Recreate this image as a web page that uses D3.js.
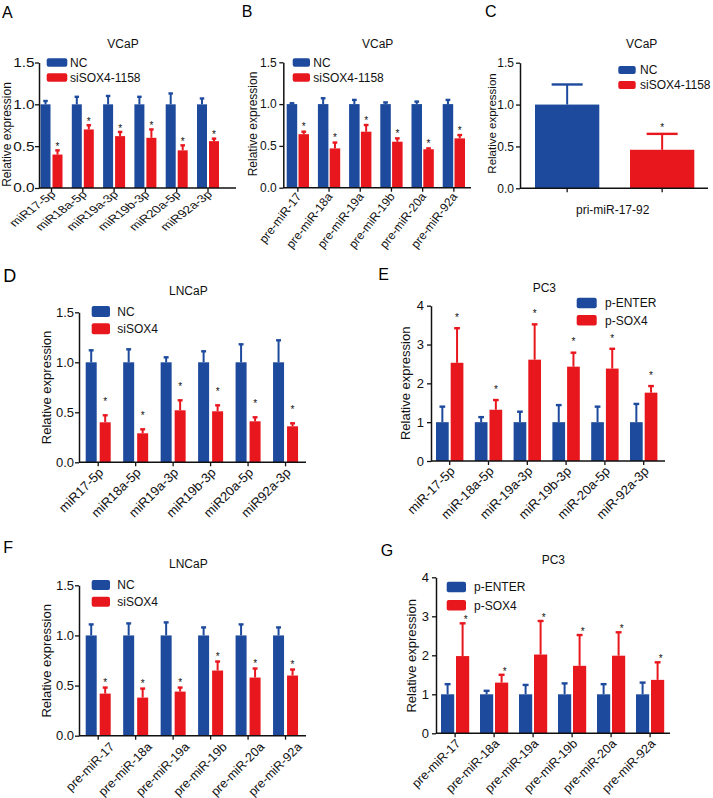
<!DOCTYPE html>
<html><head><meta charset="utf-8">
<script src="https://cdn.jsdelivr.net/npm/d3@7"></script>
<style>
body{margin:0;background:#fff;}
svg{display:block;font-family:Arial,"Liberation Sans",Helvetica,sans-serif;}
</style></head><body>
<svg id="fig" width="713" height="798"></svg>
<script>
// ---------- data ----------
const matureA = ["miR17-5p","miR18a-5p","miR19a-3p","miR19b-3p","miR20a-5p","miR92a-3p"];
const matureE = ["miR-17-5p","miR-18a-5p","miR-19a-3p","miR-19b-3p","miR-20a-5p","miR-92a-3p"];
const preMiR = ["pre-miR-17","pre-miR-18a","pre-miR-19a","pre-miR-19b","pre-miR-20a","pre-miR-92a"];
const priMiR = ["pri-miR-17-92"];
const ticks15 = [0, 0.5, 1.0, 1.5];
const ticks4 = [0, 1, 2, 3, 4];
const legSi1158 = ["NC", "siSOX4-1158"];
const legSi = ["NC", "siSOX4"];
const legP = ["p-ENTER", "p-SOX4"];
const titles = ["VCaP", "VCaP", "VCaP", "LNCaP", "PC3", "LNCaP", "PC3"];
const yTitle = "Relative expression";

// A: VCaP mature miRNAs
const aNC = [1, 1, 1, 1, 1, 1];
const aNCsd = [0.04, 0.09, 0.10, 0.09, 0.13, 0.07];
const aSi = [0.40, 0.70, 0.62, 0.60, 0.45, 0.56];
const aSiSd = [0.05, 0.05, 0.05, 0.10, 0.06, 0.03];
// B: VCaP pre-miRNAs
const bNC = [1, 1, 1, 1, 1, 1];
const bNCsd = [0.01, 0.07, 0.05, 0.02, 0.03, 0.05];
const bSi = [0.64, 0.47, 0.67, 0.55, 0.46, 0.59];
const bSiSd = [0.03, 0.07, 0.08, 0.04, 0.01, 0.04];
// C: VCaP pri-miR-17-92
const cNC = [1.0];
const cNCsd = [0.24];
const cSi = [0.46];
const cSiSd = [0.19];
// D: LNCaP mature miRNAs
const dNC = [1, 1, 1, 1, 1, 1];
const dNCsd = [0.12, 0.13, 0.05, 0.11, 0.18, 0.22];
const dSi = [0.40, 0.29, 0.52, 0.51, 0.41, 0.36];
const dSiSd = [0.07, 0.04, 0.10, 0.06, 0.04, 0.03];
// E: PC3 mature miRNAs
const eEnt = [1, 1, 1, 1, 1, 1];
const eEntSd = [0.40, 0.13, 0.27, 0.44, 0.40, 0.47];
const eSox = [2.53, 1.32, 2.61, 2.43, 2.38, 1.76];
const eSoxSd = [0.89, 0.25, 0.91, 0.36, 0.51, 0.17];
// F: LNCaP pre-miRNAs
const fNC = [1, 1, 1, 1, 1, 1];
const fNCsd = [0.11, 0.12, 0.13, 0.08, 0.11, 0.08];
const fSi = [0.42, 0.38, 0.44, 0.65, 0.58, 0.60];
const fSiSd = [0.06, 0.09, 0.04, 0.09, 0.09, 0.06];
// G: PC3 pre-miRNAs
const gEnt = [1, 1, 1, 1, 1, 1];
const gEntSd = [0.26, 0.09, 0.24, 0.28, 0.26, 0.30];
const gSox = [1.98, 1.30, 2.02, 1.73, 1.99, 1.37];
const gSoxSd = [0.84, 0.20, 0.86, 0.79, 0.60, 0.45];

// ---------- drawing ----------
const svg = d3.select("#fig");
const BLUE = "#1d4a9c", RED = "#e8161d", INK = "#111";
const colors = [BLUE, RED];

function panel(P) {
  const g = svg.append("g");
  const y = d3.scaleLinear().domain([0, P.ymax]).range([P.yBot, P.yTop]);
  const n = P.cats.length;
  const gw = 2 * P.barW + P.gap;
  const pI = n > 1 ? 1 - gw / P.step : 0;
  const x = d3.scaleBand().domain(P.cats)
    .range([P.gx0, P.gx0 + (n > 1 ? (n - pI) * P.step : gw)])
    .paddingInner(pI).paddingOuter(0);
  const xs = d3.scaleBand().domain([0, 1]).range([0, gw])
    .paddingInner(P.gap / (P.barW + P.gap)).paddingOuter(0);
  const bw = xs.bandwidth();
  const capW = P.capW || bw * 0.45;

  [0, 1].forEach(s => {
    const vals = P.vals[s], sds = P.sds[s];
    const sg = g.append("g");
    sg.selectAll("rect").data(P.cats).join("rect")
      .attr("x", (d) => x(d) + xs(s))
      .attr("y", (d, i) => y(vals[i]))
      .attr("width", bw)
      .attr("height", (d, i) => P.yBot - y(vals[i]))
      .attr("fill", colors[s]);
    sg.selectAll("line.ev").data(P.cats).join("line").attr("class", "ev")
      .attr("x1", d => x(d) + xs(s) + bw / 2).attr("x2", d => x(d) + xs(s) + bw / 2)
      .attr("y1", (d, i) => y(vals[i])).attr("y2", (d, i) => y(vals[i] + sds[i]))
      .attr("stroke", colors[s]).attr("stroke-width", 2);
    sg.selectAll("line.ec").data(P.cats).join("line").attr("class", "ec")
      .attr("x1", d => x(d) + xs(s) + bw / 2 - capW / 2).attr("x2", d => x(d) + xs(s) + bw / 2 + capW / 2)
      .attr("y1", (d, i) => y(vals[i] + sds[i])).attr("y2", (d, i) => y(vals[i] + sds[i]))
      .attr("stroke", colors[s]).attr("stroke-width", 2.4);
    if (s === 1) {
      sg.selectAll("text.st").data(P.cats).join("text").attr("class", "st")
        .attr("x", d => x(d) + xs(s) + bw / 2 + (P.starDx || 0))
        .attr("y", (d, i) => y(vals[i] + sds[i]) - P.starOff + 5.8)
        .attr("text-anchor", "middle").attr("font-size", 10).attr("fill", INK)
        .text("*");
    }
  });

  const ya = g.append("g").attr("transform", `translate(${P.x0},0)`)
    .call(d3.axisLeft(y).tickValues(P.ticks).tickFormat(P.fmt).tickSize(4).tickPadding(P.tickPad).tickSizeOuter(0));
  ya.select(".domain").attr("stroke", INK).attr("stroke-width", 1.5);
  ya.selectAll(".tick line").attr("stroke", INK).attr("stroke-width", 1.3);
  ya.selectAll(".tick text").attr("font-size", P.tickFs).attr("fill", INK)
    .attr("font-family", "Arial, 'Liberation Sans', sans-serif");
  if (P.tickSx) {
    ya.selectAll(".tick text").attr("x", 0)
      .attr("transform", `translate(${-(4 + P.tickPad)},0) scale(${P.tickSx},1)`);
  }

  g.append("line").attr("x1", P.x0).attr("x2", P.x1).attr("y1", P.yBot).attr("y2", P.yBot)
    .attr("stroke", INK).attr("stroke-width", 1.5);
  let tickPos;
  if (P.single) {
    tickPos = [0, 1].map(s => x(P.cats[0]) + xs(s) + bw / 2);
  } else {
    tickPos = P.cats.map(d => x(d) + gw / 2);
  }
  g.selectAll("line.xt").data(tickPos).join("line").attr("class", "xt")
    .attr("x1", d => d).attr("x2", d => d).attr("y1", P.yBot).attr("y2", P.yBot + 4)
    .attr("stroke", INK).attr("stroke-width", 1.3);

  if (P.single) {
    g.append("text").attr("x", x(P.cats[0]) + gw / 2 + P.lab.dx).attr("y", P.yBot + P.lab.dy)
      .attr("text-anchor", "middle").attr("font-size", P.lab.fs).attr("fill", INK).text(P.cats[0]);
  } else {
    const rot = P.lab.rot || -45;
    g.selectAll("text.xl").data(P.cats).join("text").attr("class", "xl")
      .attr("transform", d => `translate(${x(d) + gw / 2 + P.lab.dx},${P.yBot + P.lab.dy}) scale(${P.lab.sx || 1},1) rotate(${rot})`)
      .attr("text-anchor", "end").attr("font-size", P.lab.fs).attr("fill", INK)
      .text(d => d);
  }

  const L = P.leg;
  P.legend.forEach((t, s) => {
    g.append("rect").attr("x", L.x).attr("y", L.y + s * L.dy).attr("width", L.w).attr("height", L.h)
      .attr("rx", 2).attr("fill", colors[s]);
    g.append("text").attr("x", L.tx).attr("y", L.y + s * L.dy + L.h / 2 + 0.36 * L.fs)
      .attr("font-size", L.fs).attr("fill", INK).text(t);
  });

  g.append("text").attr("x", P.title.x).attr("y", P.title.y).attr("text-anchor", "middle")
    .attr("font-size", 12).attr("fill", INK).text(P.titleText);
  g.append("text").attr("transform", `translate(${P.ylab.x},${P.ylab.y}) rotate(-90)`)
    .attr("text-anchor", "middle").attr("font-size", P.ylab.fs).attr("fill", INK).text(yTitle);
  g.append("text").attr("x", P.letter.x).attr("y", P.letter.y).attr("font-size", P.letter.fs)
    .attr("fill", "#000").text(P.letter.t);
}

const f1 = d3.format(".1f"), f0 = d3.format("d");

panel({cats: matureA, vals: [aNC, aSi], sds: [aNCsd, aSiSd], legend: legSi1158, titleText: titles[0],
  ymax: 1.5, ticks: ticks15, fmt: f1,
  x0: 39, x1: 236, yTop: 62.5, yBot: 188, gx0: 40.5, step: 31.3, barW: 10, gap: 2,
  tickFs: 12, tickSx: 1.28, tickPad: 0.5, starOff: 6,
  lab: {fs: 10.5, sx: 1.3, dx: 5, dy: 7},
  leg: {x: 46.7, y: 58.3, w: 20.6, h: 8.4, dy: 15, tx: 70, fs: 12},
  title: {x: 123, y: 47.7}, ylab: {x: 11, y: 134.5, fs: 12}, letter: {x: 2, y: 18, fs: 16, t: "A"}});

panel({cats: preMiR, vals: [bNC, bSi], sds: [bNCsd, bSiSd], legend: legSi1158, titleText: titles[1],
  ymax: 1.5, ticks: ticks15, fmt: f1,
  x0: 283.3, x1: 471, yTop: 62.3, yBot: 187.7, gx0: 286.7, step: 31.2, barW: 10.5, gap: 1.3,
  tickFs: 12, tickPad: 2.5, starOff: 7,
  lab: {fs: 12, rot: -52, dx: 4, dy: 9},
  leg: {x: 292.7, y: 58.3, w: 17.3, h: 8.4, dy: 15, tx: 313.3, fs: 12},
  title: {x: 377.7, y: 47.7}, ylab: {x: 257, y: 124, fs: 12}, letter: {x: 241.7, y: 16.7, fs: 16, t: "B"}});

panel({cats: priMiR, single: true, vals: [cNC, cSi], sds: [cNCsd, cSiSd], legend: legSi1158, titleText: titles[2],
  ymax: 1.5, ticks: ticks15, fmt: f1,
  x0: 520, x1: 708, yTop: 62.7, yBot: 188.3, gx0: 535, step: 158.3, barW: 64.3, gap: 30.7, capW: 31,
  tickFs: 12, tickPad: 2, starOff: 9,
  lab: {fs: 12, dx: -2, dy: 26},
  leg: {x: 618.3, y: 66, w: 17.4, h: 8, dy: 15, tx: 640, fs: 12},
  title: {x: 641.7, y: 47.7}, ylab: {x: 496, y: 123.5, fs: 11.5}, letter: {x: 485, y: 16.7, fs: 16, t: "C"}});

panel({cats: matureA, vals: [dNC, dSi], sds: [dNCsd, dSiSd], legend: legSi, titleText: titles[3],
  ymax: 1.5, ticks: ticks15, fmt: f1,
  x0: 79, x1: 306, yTop: 312.3, yBot: 462.3, gx0: 85.7, step: 37.47, barW: 11, gap: 3,
  tickFs: 13, tickPad: 1, starOff: 16,
  lab: {fs: 13, dx: 6, dy: 11},
  leg: {x: 91.7, y: 306, w: 18.3, h: 11, dy: 17.3, tx: 117.3, fs: 12},
  title: {x: 188.3, y: 295}, ylab: {x: 51, y: 387.5, fs: 13}, letter: {x: 3.3, y: 281.7, fs: 18, t: "D"}});

panel({cats: matureE, vals: [eEnt, eSox], sds: [eEntSd, eSoxSd], legend: legP, titleText: titles[4],
  ymax: 4, ticks: ticks4, fmt: f0,
  x0: 431, x1: 665, yTop: 305.7, yBot: 461, gx0: 436, step: 38.8, barW: 12.7, gap: 2,
  tickFs: 13, tickPad: 3, starOff: 13,
  lab: {fs: 13, dx: 6, dy: 11},
  leg: {x: 576.7, y: 297.7, w: 20, h: 10.6, dy: 17.3, tx: 605, fs: 12},
  title: {x: 544.3, y: 292.3}, ylab: {x: 410.3, y: 383.3, fs: 13}, letter: {x: 378.3, y: 280, fs: 16, t: "E"}});

panel({cats: preMiR, vals: [fNC, fSi], sds: [fNCsd, fSiSd], legend: legSi, titleText: titles[5],
  ymax: 1.5, ticks: ticks15, fmt: f1,
  x0: 79, x1: 306, yTop: 585.3, yBot: 735.7, gx0: 85.7, step: 37.47, barW: 11, gap: 3,
  tickFs: 13, tickPad: 1, starOff: 7,
  lab: {fs: 12.5, dx: 17, dy: 12},
  leg: {x: 91.7, y: 580, w: 18.3, h: 10, dy: 16.7, tx: 117.3, fs: 12},
  title: {x: 188.3, y: 568.3}, ylab: {x: 51, y: 660.8, fs: 13}, letter: {x: 3.3, y: 553.3, fs: 16, t: "F"}});

panel({cats: preMiR, vals: [gEnt, gSox], sds: [gEntSd, gSoxSd], legend: legP, titleText: titles[6],
  ymax: 4, ticks: ticks4, fmt: f0,
  x0: 436, x1: 670, yTop: 577.3, yBot: 733.3, gx0: 441, step: 39, barW: 13.2, gap: 1.8,
  tickFs: 13, tickPad: 3, starOff: 6, starDx: 3,
  lab: {fs: 12.5, dx: 6, dy: 11},
  leg: {x: 446.7, y: 581.7, w: 19.3, h: 10.6, dy: 18.3, tx: 474, fs: 12},
  title: {x: 553.3, y: 564}, ylab: {x: 416, y: 655.8, fs: 13}, letter: {x: 380.7, y: 555.7, fs: 16, t: "G"}});
</script>
</body></html>
